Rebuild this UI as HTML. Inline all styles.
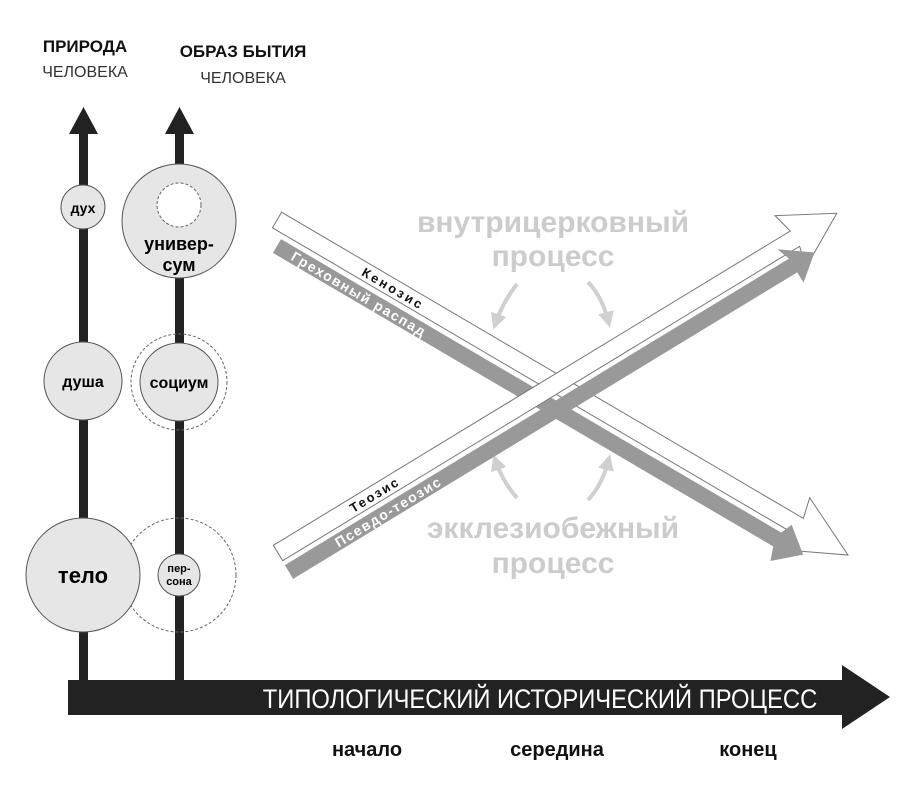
<!DOCTYPE html>
<html><head><meta charset="utf-8"><style>
html,body{margin:0;padding:0;background:#fff;width:911px;height:790px;overflow:hidden}
svg{display:block}
text{font-family:"Liberation Sans","DejaVu Sans",sans-serif}
</style></head><body>
<svg width="911" height="790" viewBox="0 0 911 790" xmlns="http://www.w3.org/2000/svg">
<defs>
<marker id="ah" viewBox="0 0 10 10" refX="5" refY="5" markerWidth="4" markerHeight="4" orient="auto"><path d="M0,0 L10,5 L0,10 z" fill="#d0d0d0"/></marker>
</defs>
<text x="85" y="52" font-size="17" font-weight="bold" text-anchor="middle" fill="#111">ПРИРОДА</text>
<text x="85" y="77" font-size="16" text-anchor="middle" fill="#333">ЧЕЛОВЕКА</text>
<text x="243" y="57" font-size="17" font-weight="bold" text-anchor="middle" fill="#111">ОБРАЗ БЫТИЯ</text>
<text x="243" y="83" font-size="16" text-anchor="middle" fill="#333">ЧЕЛОВЕКА</text>
<rect x="79" y="130" width="9" height="555" fill="#222"/>
<polygon points="69,134 83.5,107 98,134" fill="#222"/>
<rect x="175" y="130" width="9" height="555" fill="#222"/>
<polygon points="165,134 179.5,107 194,134" fill="#222"/>
<circle cx="83" cy="207" r="22" fill="#e6e6e6" stroke="#555"/>
<text x="83" y="213" font-size="14" font-weight="bold" text-anchor="middle">дух</text>
<circle cx="179" cy="221" r="57" fill="#e6e6e6" stroke="#555"/>
<circle cx="179" cy="205" r="22" fill="#fff" stroke="#666" stroke-dasharray="3,2"/>
<text x="179" y="250" font-size="18" font-weight="bold" text-anchor="middle">универ-</text>
<text x="179" y="271" font-size="18" font-weight="bold" text-anchor="middle">сум</text>
<circle cx="83" cy="381" r="39" fill="#e6e6e6" stroke="#555"/>
<text x="83" y="387" font-size="16" font-weight="bold" text-anchor="middle">душа</text>
<circle cx="179" cy="382" r="48" fill="none" stroke="#666" stroke-dasharray="3,2"/>
<circle cx="179" cy="382" r="39" fill="#e6e6e6" stroke="#555"/>
<text x="179" y="388" font-size="16" font-weight="bold" text-anchor="middle">социум</text>
<circle cx="179" cy="575" r="57" fill="none" stroke="#666" stroke-dasharray="3,2"/>
<circle cx="83" cy="575" r="57" fill="#e6e6e6" stroke="#555"/>
<text x="83" y="583" font-size="22" font-weight="bold" text-anchor="middle">тело</text>
<circle cx="179" cy="575" r="21" fill="#e6e6e6" stroke="#555"/>
<text x="179" y="572" font-size="11" font-weight="bold" text-anchor="middle">пер-</text>
<text x="179" y="585" font-size="11" font-weight="bold" text-anchor="middle">сона</text>
<rect x="68" y="680" width="780" height="35" fill="#222"/>
<polygon points="842,665 890,697 842,729" fill="#222"/>
<text x="540" y="708" font-size="27" fill="#fff" text-anchor="middle" transform="translate(540,0) scale(0.88,1) translate(-540,0)">ТИПОЛОГИЧЕСКИЙ ИСТОРИЧЕСКИЙ ПРОЦЕСС</text>
<text x="367" y="756" font-size="20" font-weight="bold" text-anchor="middle" fill="#111">начало</text>
<text x="557" y="756" font-size="20" font-weight="bold" text-anchor="middle" fill="#111">середина</text>
<text x="748" y="756" font-size="20" font-weight="bold" text-anchor="middle" fill="#111">конец</text>
<g font-weight="bold" font-size="30" fill="#cccccc" text-anchor="middle">
<text x="553" y="232">внутрицерковный</text>
<text x="553" y="266">процесс</text>
<text x="553" y="538">экклезиобежный</text>
<text x="553" y="573">процесс</text>
</g>
<g fill="none" stroke="#d0d0d0" stroke-width="4" marker-end="url(#ah)">
<path d="M517,284 Q503,302 496,322"/>
<path d="M588,282 Q602,297 608,320"/>
<path d="M517,498 Q503,482 496,462"/>
<path d="M588,500 Q602,485 608,462"/>
</g>
<g transform="translate(277,220) rotate(30.4)">
<polygon points="0,-9 605,-9 600,-30 662,0 600,30 605,9 0,9" fill="#fff" stroke="#777" stroke-width="1"/>
</g>
<g transform="translate(277,246) rotate(30.4)">
<polygon points="0,-8 580,-8 585,-20 610,0 585,22 580,8 0,8" fill="#999"/>
<text x="18" y="5" font-size="14" font-weight="bold" fill="#fff" letter-spacing="1.5">Греховный распад</text>
</g>
<g transform="translate(277,220) rotate(30.4)">
<text x="100" y="5" font-size="13" font-weight="bold" fill="#111" letter-spacing="2.5">Кенозис</text>
</g>
<g transform="translate(278,553) rotate(-31.3)">
<polygon points="0,-9 605,-9 600,-30 654,0 600,30 605,9 0,9" fill="#fff" stroke="#777" stroke-width="1"/>
<text x="85" y="5" font-size="13" font-weight="bold" fill="#111" letter-spacing="2">Теозис</text>
</g>
<g transform="translate(289,572) rotate(-31.3)">
<polygon points="0,-8 590,-8 585,-22 615,0 590,20 590,8 0,8" fill="#999"/>
<text x="55" y="5" font-size="14" font-weight="bold" fill="#fff" letter-spacing="1.5">Псевдо-теозис</text>
</g>
</svg>
</body></html>
